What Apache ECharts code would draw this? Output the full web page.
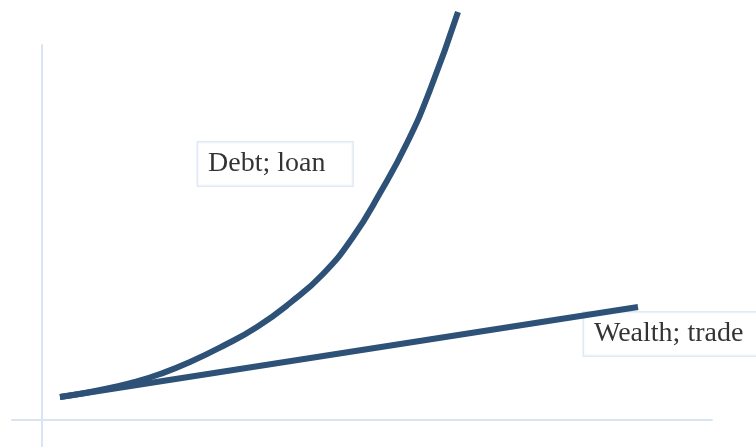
<!DOCTYPE html>
<html>
<head>
<meta charset="utf-8">
<script src="https://cdn.jsdelivr.net/npm/echarts@6/dist/echarts.min.js"></script>
<style>html,body{margin:0;padding:0;background:#fff}#c{width:756px;height:447px}</style>
</head>
<body>
<div id="c"></div>
<script>
// Debt curve (x, y) points
const debtX = [0.45, 1.075, 1.7, 2.325, 2.95, 3.7, 4.525, 5.375, 6.2, 7.025, 7.775, 8.45, 9.125, 9.7, 10.4];
const debtY = [0.575, 0.675, 0.8, 0.95, 1.15, 1.45, 1.85, 2.325, 2.925, 3.65, 4.575, 5.675, 6.925, 8.25, 10.2];
// Wealth line
const wealthX = [0.45, 14.9];
const wealthY = [0.575, 2.825];
// Labels
const labelNames = ['Debt; loan', 'Wealth; trade'];
const labelX = [3.9, 13.55];
const labelY = [6.4, 2.15];

const zip = (a, b) => a.map((v, i) => [v, b[i]]);
const lineColor = '#2d5177';
const axisColor = '#d9e4f3';

const chart = echarts.init(document.getElementById('c'));
chart.setOption({
  animation: false,
  grid: { left: 12, right: 44, top: 45, bottom: 0 },
  xAxis: {
    type: 'value', min: -0.75, max: 16.75,
    axisLine: { show: true, onZero: true, lineStyle: { color: axisColor, width: 2 } },
    axisTick: { show: false }, axisLabel: { show: false }, splitLine: { show: false }
  },
  yAxis: {
    type: 'value', min: -0.675, max: 9.375,
    axisLine: { show: true, onZero: true, lineStyle: { color: axisColor, width: 2 } },
    axisTick: { show: false }, axisLabel: { show: false }, splitLine: { show: false }
  },
  series: [
    {
      type: 'line', data: zip(debtX, debtY), smooth: 0.5, clip: false,
      symbol: 'none', lineStyle: { color: lineColor, width: 6 }
    },
    {
      type: 'line', data: zip(wealthX, wealthY), clip: false,
      symbol: 'none', lineStyle: { color: lineColor, width: 6 }
    },
    {
      type: 'scatter', clip: false, symbolSize: 0,
      data: labelNames.map((n, i) => ({ name: n, value: [labelX[i], labelY[i]] })),
      label: {
        show: true, position: 'right', distance: 0,
        formatter: p => p.name,
        fontFamily: 'Liberation Serif', fontSize: 28, color: '#000',
        lineHeight: 29, padding: [9, 27, 5, 10],
        backgroundColor: '#fff', borderColor: axisColor, borderWidth: 1.5
      }
    }
  ]
});
</script>
</body>
</html>
